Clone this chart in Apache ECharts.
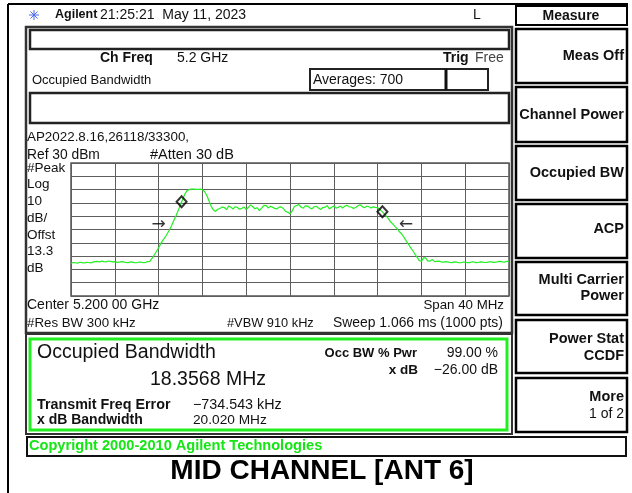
<!DOCTYPE html>
<html><head><meta charset="utf-8">
<script src="https://cdn.jsdelivr.net/npm/echarts@6/dist/echarts.min.js"></script>
<style>html,body{margin:0;padding:0;background:#fff}#c{width:632px;height:493px}</style>
</head><body><div id="c"></div>
<script>
// ---- data ----
const freqStartMHz = 5180;
const freqStepMHz = 0.2;
const levelDbm = [
 -45.3,-44.8,-45.0,-45.4,-44.6,-44.9,-45.2,-44.7,-44.8,-45.1,
 -44.5,-44.2,-44.0,-44.4,-43.8,-44.1,-44.3,-43.7,-43.9,-44.3,
 -44.2,-44.7,-44.6,-44.1,-44.3,-44.8,-44.9,-44.4,-44.5,-44.9,
 -45.0,-44.6,-44.6,-44.9,-44.8,-44.2,-43.9,-41.8,-39.2,-36.5,
 -33.8,-30.6,-28.0,-25.8,-23.0,-20.2,-16.8,-13.0,-9.5,-5.6,
 -1.4,2.8,6.7,9.2,10.1,10.4,10.3,10.2,10.2,10.4,
 10.0,8.6,5.5,1.6,-2.5,-5.2,-6.4,-4.8,-4.2,-3.0,
 -3.5,-5.1,-2.3,-3.2,-4.6,-2.9,-3.4,-4.8,-4.1,-3.0,
 -5.0,-3.3,-1.5,-2.9,-4.4,-3.6,-5.8,-4.0,-2.0,-1.8,
 -3.8,-2.6,-3.2,-4.1,-4.6,-3.2,-3.0,-4.3,-6.4,-7.0,
 -8.2,-6.0,-2.7,-2.0,-1.3,-3.1,-4.0,-2.2,-2.4,-3.7,
 -4.5,-2.9,-2.5,-3.8,-5.0,-3.5,-3.2,-2.1,-4.6,-3.3,
 -2.3,-3.9,-3.4,-2.4,-3.8,-2.6,-1.8,-3.0,-3.1,-4.2,
 -3.5,-2.2,-1.4,-2.8,-3.6,-2.5,-2.8,-3.9,-3.0,-3.4,
 -3.6,-5.0,-6.4,-8.2,-10.0,-12.0,-14.4,-16.0,-17.9,-19.6,
 -21.7,-23.4,-25.7,-28.4,-30.8,-33.5,-35.8,-38.4,-40.8,-43.2,
 -44.0,-41.2,-41.5,-43.8,-43.6,-42.6,-44.2,-43.9,-43.8,-44.4,
 -44.6,-44.1,-44.3,-44.8,-44.9,-44.3,-44.5,-45.0,-45.0,-44.6,
 -44.6,-44.9,-44.9,-44.4,-44.4,-44.9,-44.8,-44.3,-44.5,-44.8,
 -44.7,-44.4,-44.3,-44.7,-44.6,-44.2,-44.0,-44.4,-44.5,-43.9,
 -44.2
];
const markerFreqMHz = [5190.1, 5208.44];
const markerLevelDbm = [0.8, -6.7];
const xdbArrowFreqMHz = [5188.0, 5210.6];
const xdbArrowLevelDbm = [-16, -16];
const xdbArrowText = ['\u2192', '\u2190'];
const xAxisMinMHz = 5180, xAxisMaxMHz = 5220, xDivMHz = 4;
const refLevelDbm = 30, bottomLevelDbm = -70, dbPerDiv = 10;

const sideLabels = ['#Peak', 'Log', '10', 'dB/', 'Offst', '13.3', 'dB'];
const softkeys = [
  ['Meas Off'], ['Channel Power'], ['Occupied BW'], ['ACP'],
  ['Multi Carrier', 'Power'], ['Power Stat', 'CCDF'], ['More', '1 of 2']
];

// ---- build ----
const traceData = levelDbm.map((v, i) => [freqStartMHz + i * freqStepMHz, v]);
const markerData = markerFreqMHz.map((f, i) => [f, markerLevelDbm[i]]);
const arrowData = xdbArrowFreqMHz.map((f, i) => ({ value: [f, xdbArrowLevelDbm[i]], label: { formatter: xdbArrowText[i] } }));

const FF = 'Liberation Sans, Arial, sans-serif';
function T(x, y, text, size, opt) {
  opt = opt || {};
  return { type: 'text', x: x, y: y, z: 10, style: {
    text: text, font: (opt.bold ? 'bold ' : '') + size + 'px ' + (opt.family || FF),
    fill: opt.fill || '#111', align: opt.align || 'left', verticalAlign: 'middle' } };
}
function R(x, y, w, h, stroke, lw) {
  return { type: 'rect', z: 5, shape: { x: x, y: y, width: w, height: h }, style: { fill: 'none', stroke: stroke, lineWidth: lw } };
}
function L(x1, y1, x2, y2, stroke, lw) {
  return { type: 'line', z: 5, shape: { x1: x1, y1: y1, x2: x2, y2: y2 }, style: { stroke: stroke, lineWidth: lw } };
}

const g = [];
// outer frame
g.push(L(8, 4, 628, 4, '#000', 2));
g.push(L(8, 4, 8, 493, '#000', 2));
// logo star
[[0,5],[5,0],[3.5,3.5],[3.5,-3.5]].forEach(d => g.push(L(34 - d[0], 15 - d[1], 34 + d[0], 15 + d[1], '#4a6cf0', 1)));
g.push(T(55, 15, 'Agilent', 12.5, { bold: true }));
g.push(T(100, 15, '21:25:21  May 11, 2023', 14));
g.push(T(473, 15, 'L', 14));
// softkeys
g.push(R(516, 6, 111, 19, '#000', 2));
g.push(T(571, 16, 'Measure', 14, { bold: true, align: 'center' }));
const skY = [[29, 83], [87, 142], [146, 200], [204, 258], [262, 315], [320, 373], [378, 432]];
const skLabelY = [[56], [115], [173], [229], [280, 296], [339, 356], [397, 414]];
skY.forEach((r, i) => {
  g.push(R(516, r[0], 111, r[1] - r[0], '#000', 2.5));
  softkeys[i].forEach((s, k) => {
    const small = (i === 6 && k === 1);
    g.push(T(624, skLabelY[i][k], s, small ? 14 : 14.5, { bold: !small, align: 'right' }));
  });
});
// main panel
g.push(R(26, 27, 486, 306, '#333', 2.5));
g.push(R(30, 30, 479, 19, '#222', 2.5));
g.push(T(100, 58, 'Ch Freq', 14, { bold: true }));
g.push(T(177, 58, '5.2 GHz', 14));
g.push(T(443, 58, 'Trig', 14, { bold: true }));
g.push(T(475, 58, 'Free', 14, { fill: '#444' }));
g.push(T(32, 80, 'Occupied Bandwidth', 13));
g.push(R(310, 69, 178, 21, '#222', 2));
g.push(L(446, 69, 446, 90, '#111', 3));
g.push(T(313, 80, 'Averages: 700', 14));
g.push(R(30, 93, 479, 30, '#222', 2.5));
g.push(T(27, 137, 'AP2022.8.16,26118/33300,', 13.4));
g.push(T(27, 155, 'Ref 30 dBm', 13.8));
g.push(T(150, 155, '#Atten 30 dB', 14.5));
sideLabels.forEach((s, i) => g.push(T(27, 168 + i * 16.7, s, 13.5)));
g.push(T(27, 305, 'Center 5.200 00 GHz', 14));
g.push(T(504, 305, 'Span 40 MHz', 13.3, { align: 'right' }));
g.push(T(27, 323, '#Res BW 300 kHz', 13.3));
g.push(T(227, 323, '#VBW 910 kHz', 12.8));
g.push(T(333, 323, 'Sweep 1.066 ms (1000 pts)', 13.9));
// result box
g.push(R(26, 334, 486, 100, '#333', 2));
g.push(R(30, 339, 477, 91, '#22ee22', 3));
g.push(T(37, 353, 'Occupied Bandwidth', 19.5));
g.push(T(150, 380, '18.3568 MHz', 19.5));
g.push(T(37, 405, 'Transmit Freq Error', 14.3, { bold: true }));
g.push(T(193, 405, '\u2212734.543 kHz', 14.3));
g.push(T(37, 420, 'x dB Bandwidth', 14, { bold: true }));
g.push(T(193, 420, '20.020 MHz', 13.7));
g.push(T(417, 353, 'Occ BW % Pwr', 13, { bold: true, align: 'right' }));
g.push(T(498, 353, '99.00 %', 14, { align: 'right' }));
g.push(T(418, 370, 'x dB', 13.5, { bold: true, align: 'right' }));
g.push(T(498, 370, '\u221226.00 dB', 14, { align: 'right' }));
// copyright bar
g.push(R(27, 437, 599, 19, '#111', 2));
g.push(T(29, 446, 'Copyright 2000-2010 Agilent Technologies', 14.6, { bold: true, fill: '#14e614' }));
// caption
g.push(T(322, 471, 'MID CHANNEL [ANT 6]', 28, { bold: true, align: 'center', fill: '#000' }));

const chart = echarts.init(document.getElementById('c'), null, { renderer: 'canvas' });
chart.setOption({
  animation: false,
  backgroundColor: '#fff',
  grid: { left: 71, top: 163, width: 438, height: 133, show: true, borderColor: '#555', borderWidth: 1.5, backgroundColor: 'transparent' },
  xAxis: { type: 'value', min: xAxisMinMHz, max: xAxisMaxMHz, interval: xDivMHz,
    axisLine: { show: false }, axisTick: { show: false }, axisLabel: { show: false },
    splitLine: { show: true, lineStyle: { color: '#5e5e5e', width: 1 } } },
  yAxis: { type: 'value', min: bottomLevelDbm, max: refLevelDbm, interval: dbPerDiv,
    axisLine: { show: false }, axisTick: { show: false }, axisLabel: { show: false },
    splitLine: { show: true, lineStyle: { color: '#5e5e5e', width: 1 } } },
  series: [
    { type: 'line', data: traceData, showSymbol: false, symbol: 'none',
      lineStyle: { color: '#22f022', width: 1.2 }, z: 3 },
    { type: 'scatter', data: markerData, symbol: 'diamond', symbolSize: [10, 11],
      itemStyle: { color: 'rgba(0,0,0,0)', borderColor: '#000', borderWidth: 2 }, z: 5 },
    { type: 'scatter', data: arrowData, symbolSize: 0,
      label: { show: true, position: 'inside', color: '#000', fontSize: 17, fontFamily: 'DejaVu Sans' }, z: 5 }
  ],
  graphic: { elements: g }
});
</script></body></html>
